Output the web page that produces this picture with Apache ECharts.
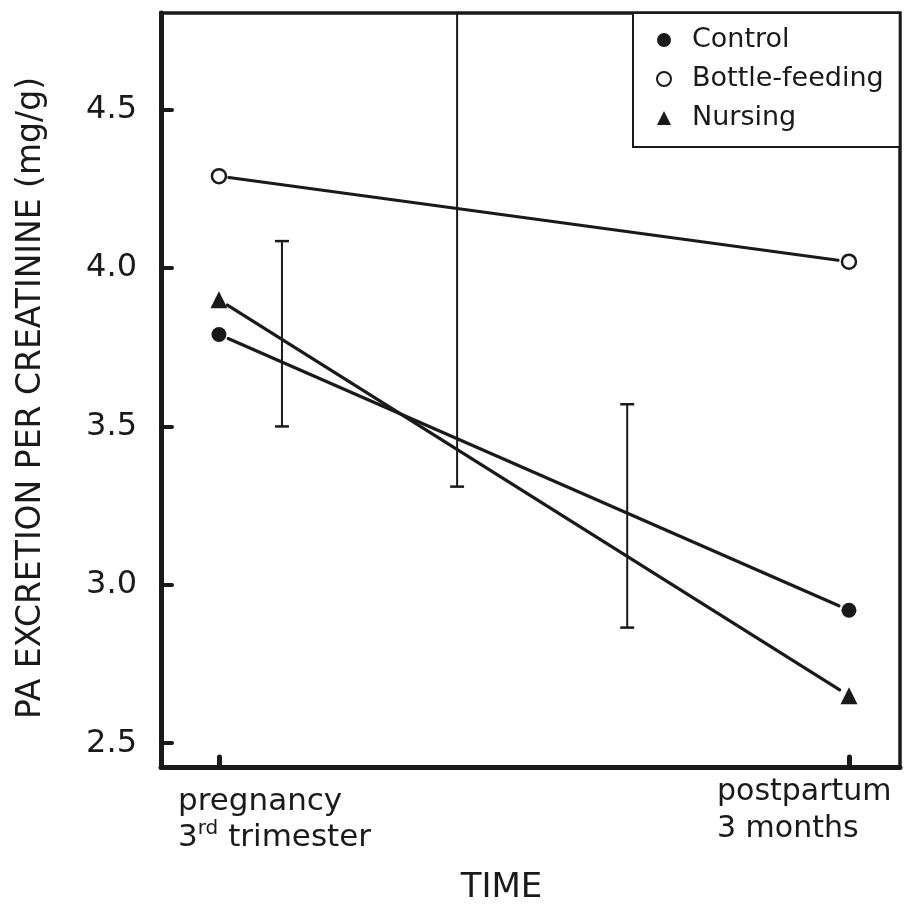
<!DOCTYPE html>
<html>
<head>
<meta charset="utf-8">
<script src="https://cdn.jsdelivr.net/npm/echarts@6/dist/echarts.min.js"></script>
<style>
html,body{margin:0;padding:0;background:#fff;}
#chart{width:908px;height:910px;}
</style>
</head>
<body>
<div id="chart"></div>
<script>
// ---- data ----
const groups = ['Control', 'Bottle-feeding', 'Nursing'];
const timeX = [0, 1];                      // pregnancy 3rd trimester, postpartum 3 months
const control = [3.79, 2.92];
const bottle = [4.29, 4.02];
const nursing = [3.90, 2.65];
const errX = [0.10, 0.378, 0.648];
const errLow = [3.50, 3.31, 2.865];
const errHigh = [4.085, 4.90, 3.57];
const yTicks = [2.5, 3.0, 3.5, 4.0, 4.5];
const xTicks = [0, 1];
const yTitle = 'PA EXCRETION PER CREATININE (mg/g)';
const xTitle = 'TIME';

const INK = '#1a1a1a';
const FONT = 'DejaVu Sans';

function segData(vals) { return [[timeX[0], vals[0], timeX[1], vals[1]]]; }

function segRender(params, api) {
  const p0 = api.coord([api.value(0), api.value(1)]);
  const p1 = api.coord([api.value(2), api.value(3)]);
  const dx = p1[0] - p0[0], dy = p1[1] - p0[1];
  const len = Math.sqrt(dx * dx + dy * dy);
  const g0 = 10, g1 = 11;
  return {
    type: 'line',
    shape: {
      x1: p0[0] + dx / len * g0, y1: p0[1] + dy / len * g0,
      x2: p1[0] - dx / len * g1, y2: p1[1] - dy / len * g1
    },
    style: { stroke: INK, lineWidth: 3.2, lineCap: 'round' }
  };
}

function errRender(params, api) {
  const x = api.value(0);
  const lo = api.coord([x, api.value(1)]);
  const hi = api.coord([x, api.value(2)]);
  const cs = params.coordSys;
  let topY = hi[1];
  let clipped = false;
  if (topY < cs.y) { topY = cs.y; clipped = true; }
  const cw = 7;
  const children = [
    { type: 'line', shape: { x1: lo[0], y1: lo[1], x2: lo[0], y2: topY }, style: { stroke: INK, lineWidth: 2 } },
    { type: 'line', shape: { x1: lo[0] - cw, y1: lo[1], x2: lo[0] + cw, y2: lo[1] }, style: { stroke: INK, lineWidth: 2.5 } }
  ];
  if (!clipped) {
    children.push({ type: 'line', shape: { x1: hi[0] - cw, y1: hi[1], x2: hi[0] + cw, y2: hi[1] }, style: { stroke: INK, lineWidth: 2.5 } });
  }
  return { type: 'group', children: children };
}

const chart = echarts.init(document.getElementById('chart'), null, { renderer: 'canvas' });

const option = {
  backgroundColor: '#ffffff',
  animation: false,
  grid: {
    left: 161, top: 13, right: 8, bottom: 143,
    show: true, borderColor: INK, borderWidth: 3.5, backgroundColor: 'transparent'
  },
  legend: {
    orient: 'vertical',
    left: 633, top: 13,
    padding: [13, 16, 15, 23],
    itemGap: 11,
    itemWidth: 14, itemHeight: 14,
    borderColor: INK, borderWidth: 2,
    backgroundColor: '#fff',
    textStyle: { fontSize: 27, fontFamily: FONT, color: INK, lineHeight: 28, padding: [0, 0, 0, 16] },
    data: [
      { name: groups[0], icon: 'circle', itemStyle: { color: INK } },
      { name: groups[1], icon: 'circle', itemStyle: { color: '#fff', borderColor: INK, borderWidth: 2 } },
      { name: groups[2], icon: 'triangle', itemStyle: { color: INK } }
    ]
  },
  xAxis: {
    type: 'value',
    min: -0.092, max: 1.081,
    name: xTitle,
    nameLocation: 'middle',
    nameGap: 104,
    nameTextStyle: { fontSize: 34, fontFamily: FONT, color: INK, padding: [0, 58, 0, 0] },
    axisLine: { show: true, onZero: false, lineStyle: { color: INK, width: 5 } },
    axisTick: { show: true, inside: true, length: 10, customValues: xTicks, lineStyle: { color: INK, width: 5, cap: 'round' } },
    axisLabel: { show: false },
    splitLine: { show: false }
  },
  yAxis: {
    type: 'value',
    min: 2.425, max: 4.805,
    name: yTitle,
    nameLocation: 'middle',
    nameGap: 113,
    nameRotate: 90,
    nameTextStyle: { fontSize: 33, fontFamily: FONT, color: INK, padding: [0, 16, 0, 0] },
    axisLine: { show: true, onZero: false, lineStyle: { color: INK, width: 5 } },
    axisTick: { show: true, inside: true, length: 11, customValues: yTicks, lineStyle: { color: INK, width: 4, cap: 'round' } },
    axisLabel: {
      show: true, customValues: yTicks, margin: 24,
      fontSize: 32, fontFamily: FONT, color: INK,
      formatter: v => v.toFixed(1)
    },
    splitLine: { show: false }
  },
  series: [
    { name: 'seg-control', type: 'custom', renderItem: segRender, data: segData(control), silent: true, z: 2 },
    { name: 'seg-bottle', type: 'custom', renderItem: segRender, data: segData(bottle), silent: true, z: 2 },
    { name: 'seg-nursing', type: 'custom', renderItem: segRender, data: segData(nursing), silent: true, z: 2 },
    {
      name: 'errors', type: 'custom', renderItem: errRender, silent: true, z: 2,
      data: errX.map((x, i) => [x, errLow[i], errHigh[i]])
    },
    {
      name: groups[0], type: 'scatter', symbol: 'circle', symbolSize: 15, z: 3,
      itemStyle: { color: INK, opacity: 1 },
      data: timeX.map((x, i) => [x, control[i]])
    },
    {
      name: groups[1], type: 'scatter', symbol: 'circle', symbolSize: 14, z: 3,
      itemStyle: { color: '#fff', borderColor: INK, borderWidth: 2.5, opacity: 1 },
      data: timeX.map((x, i) => [x, bottle[i]])
    },
    {
      name: groups[2], type: 'scatter', symbol: 'triangle', symbolSize: 17, z: 3,
      itemStyle: { color: INK, opacity: 1 },
      data: timeX.map((x, i) => [x, nursing[i]])
    }
  ],
  graphic: [
    {
      type: 'text', left: 178, top: 786, z: 10,
      style: {
        text: '{n|pregnancy}\n{n|3}{s|rd}{n| trimester}',
        fill: INK,
        rich: {
          n: { fontSize: 31, fontFamily: FONT, color: INK, lineHeight: 36 },
          s: { fontSize: 20, fontFamily: FONT, color: INK, lineHeight: 36, padding: [0, 0, 18, 0] }
        }
      }
    },
    {
      type: 'text', left: 717, top: 774, z: 10,
      style: {
        text: 'postpartum\n3 months',
        fill: INK,
        font: '30px "DejaVu Sans"',
        lineHeight: 37
      }
    }
  ]
};

chart.setOption(option);
</script>
</body>
</html>
